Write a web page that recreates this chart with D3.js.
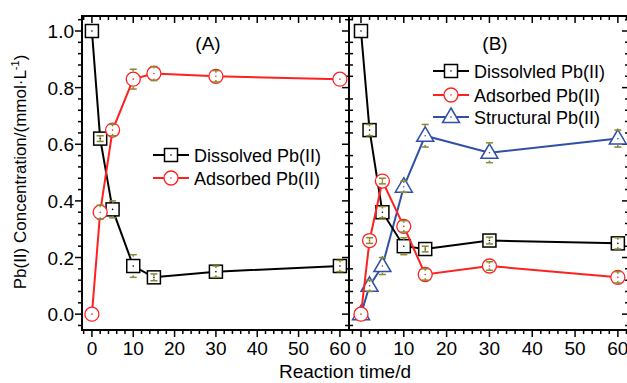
<!DOCTYPE html>
<html>
<head>
<meta charset="utf-8">
<script src="https://cdn.jsdelivr.net/npm/d3@7"></script>
<style>
  html, body { margin: 0; padding: 0; background: #fff; }
  svg { display: block; font-family: "Liberation Sans", Arial, sans-serif; }
</style>
</head>
<body>
<div id="chart"></div>
<script>
// data
const days = [0, 2, 5, 10, 15, 30, 60];

const dissolvedA = [1.0, 0.62, 0.37, 0.17, 0.13, 0.15, 0.17];
const dissolvedAErr = [0, 0.01, 0.03, 0.04, 0.012, 0.02, 0.02];
const adsorbedA = [0.0, 0.36, 0.65, 0.83, 0.85, 0.84, 0.83];
const adsorbedAErr = [0, 0.025, 0.02, 0.035, 0.025, 0.02, 0.0];

const dissolvedB = [1.0, 0.65, 0.36, 0.24, 0.23, 0.26, 0.25];
const dissolvedBErr = [0, 0.02, 0.02, 0.03, 0.01, 0.012, 0.02];
const adsorbedB = [0.0, 0.26, 0.47, 0.31, 0.14, 0.17, 0.13];
const adsorbedBErr = [0, 0.01, 0.01, 0.02, 0.02, 0.015, 0.02];
const structuralB = [0.0, 0.10, 0.17, 0.45, 0.63, 0.57, 0.62];
const structuralBErr = [0, 0.02, 0.03, 0.02, 0.04, 0.035, 0.03];

const xTicks = [0, 10, 20, 30, 40, 50, 60];
const yTicks = [0.0, 0.2, 0.4, 0.6, 0.8, 1.0];

const legendA = ["Dissolved Pb(II)", "Adsorbed Pb(II)"];
const legendB = ["Dissolvled Pb(II)", "Adsorbed Pb(II)", "Structural Pb(II)"];

// layout
const W = 627, H = 383;
const plotTop = 16, plotBottom = 330;
const aLeft = 82, mid = 349, bRight = 629;

const svg = d3.select("#chart").append("svg").attr("width", W).attr("height", H);

const y = d3.scaleLinear().domain([-0.056, 1.053]).range([plotBottom, plotTop]);
const xA = d3.scaleLinear().domain([-2.4, 62.2]).range([aLeft, mid]);
const xB = d3.scaleLinear().domain([-2.8, 62.6]).range([mid, bRight]);

const color = { dis: "#000", ads: "#ff2020", str: "#3050a8" };
const errColor = "#8a8a30";

const yMinor = d3.range(-1, 27).map(i => i * 0.04);
const xMinor = d3.range(-2, 63, 2);

// frame lines
function frame(x0, x1) {
  svg.append("rect")
    .attr("x", x0).attr("y", plotTop)
    .attr("width", x1 - x0).attr("height", plotBottom - plotTop)
    .attr("fill", "none").attr("stroke", "#000").attr("stroke-width", 2);
}

function xTickMarks(x) {
  const g = svg.append("g").attr("stroke", "#000").attr("stroke-width", 1.5);
  xMinor.forEach(v => {
    if (x(v) < x.range()[0] + 1 || x(v) > x.range()[1] - 1) return;
    const len = v % 10 === 0 ? 7 : 4;
    g.append("line").attr("x1", x(v)).attr("x2", x(v)).attr("y1", plotBottom).attr("y2", plotBottom + len);
    g.append("line").attr("x1", x(v)).attr("x2", x(v)).attr("y1", plotTop).attr("y2", plotTop + len);
  });
  svg.append("g").selectAll("text").data(xTicks).join("text")
    .attr("x", d => x(d)).attr("y", 355)
    .attr("text-anchor", "middle")
    .attr("font-size", 19)
    .text(d => d);
}

function yTickMarks(xpos, mode) {
  const g = svg.append("g").attr("stroke", "#000").attr("stroke-width", 1.5);
  yMinor.forEach(v => {
    const isMajor = Math.abs(v / 0.2 - Math.round(v / 0.2)) < 1e-6;
    let x1, x2;
    if (mode === "cross" && !isMajor) { x1 = xpos - 4; x2 = xpos + 4; }
    else { x1 = xpos - (isMajor ? 7 : 4); x2 = xpos; }
    g.append("line").attr("x1", x1).attr("x2", x2).attr("y1", y(v)).attr("y2", y(v));
  });
}

frame(aLeft, mid);
frame(mid, bRight);
xTickMarks(xA);
xTickMarks(xB);
yTickMarks(aLeft, "out");
yTickMarks(mid, "cross");
yTickMarks(bRight, "in");

svg.append("g").selectAll("text").data(yTicks).join("text")
  .attr("x", aLeft - 8).attr("y", d => y(d) + 7)
  .attr("text-anchor", "end")
  .attr("font-size", 19)
  .text(d => d.toFixed(1));

// axis titles
const yl = svg.append("text")
  .attr("transform", "translate(26,172) rotate(-90)")
  .attr("text-anchor", "middle")
  .attr("font-size", 17);
yl.append("tspan").text("Pb(II) Concentration/(mmol·L");
yl.append("tspan").attr("font-size", 11).attr("dy", -7).text("-1");
yl.append("tspan").attr("dy", 7).text(")");

svg.append("text")
  .attr("x", 345).attr("y", 378)
  .attr("text-anchor", "middle")
  .attr("font-size", 19)
  .text("Reaction time/d");

svg.append("text").attr("x", 208).attr("y", 50).attr("text-anchor", "middle").attr("font-size", 19).text("(A)");
svg.append("text").attr("x", 495).attr("y", 50).attr("text-anchor", "middle").attr("font-size", 19).text("(B)");

// markers
function marker(g, shape, cx, cy, c) {
  if (shape === "square") {
    g.append("rect").attr("x", cx - 6.5).attr("y", cy - 6.5).attr("width", 13).attr("height", 13)
      .attr("fill", "#fff").attr("stroke", c).attr("stroke-width", 1.5);
  } else if (shape === "circle") {
    g.append("circle").attr("cx", cx).attr("cy", cy).attr("r", 7)
      .attr("fill", "#fff").attr("stroke", c).attr("stroke-width", 1.3);
  } else {
    g.append("path")
      .attr("d", `M${cx},${cy - 9}L${cx + 8.5},${cy + 5.5}L${cx - 8.5},${cy + 5.5}Z`)
      .attr("fill", "#fff").attr("stroke", c).attr("stroke-width", 1.5);
  }
  g.append("circle").attr("cx", cx).attr("cy", cy).attr("r", 0.8).attr("fill", c);
}

function series(x, vals, errs, shape, c) {
  const g = svg.append("g");
  const pts = days.map((d, i) => [x(d), y(vals[i])]);
  g.append("path").attr("d", d3.line()(pts))
    .attr("fill", "none").attr("stroke", c).attr("stroke-width", 2);
  pts.forEach(p => marker(g, shape, p[0], p[1], c));
  const eg = svg.append("g").attr("stroke", errColor).attr("stroke-width", 1.5);
  days.forEach((d, i) => {
    if (!errs[i]) return;
    const cx = x(d), y1 = y(vals[i] + errs[i]), y2 = y(vals[i] - errs[i]);
    eg.append("line").attr("x1", cx).attr("x2", cx).attr("y1", y1).attr("y2", y1 + 2);
    eg.append("line").attr("x1", cx).attr("x2", cx).attr("y1", y2).attr("y2", y2 - 2);
    eg.append("line").attr("x1", cx - 3.5).attr("x2", cx + 3.5).attr("y1", y1).attr("y2", y1);
    eg.append("line").attr("x1", cx - 3.5).attr("x2", cx + 3.5).attr("y1", y2).attr("y2", y2);
  });
}

series(xA, dissolvedA, dissolvedAErr, "square", color.dis);
series(xA, adsorbedA, adsorbedAErr, "circle", color.ads);
series(xB, structuralB, structuralBErr, "triangle", color.str);
series(xB, dissolvedB, dissolvedBErr, "square", color.dis);
series(xB, adsorbedB, adsorbedBErr, "circle", color.ads);

// legends
function legend(x0, ys, labels, shapes, cols) {
  const g = svg.append("g");
  labels.forEach((t, i) => {
    g.append("line").attr("x1", x0).attr("x2", x0 + 36).attr("y1", ys[i]).attr("y2", ys[i])
      .attr("stroke", cols[i]).attr("stroke-width", 2);
    marker(g, shapes[i], x0 + 18, ys[i], cols[i]);
    g.append("text").attr("x", x0 + 41).attr("y", ys[i] + 6.5).attr("font-size", 18).text(t);
  });
}
legend(153, [155, 178], legendA, ["square", "circle"], [color.dis, color.ads]);
legend(433, [71, 95, 117], legendB, ["square", "circle", "triangle"], [color.dis, color.ads, color.str]);
</script>
</body>
</html>
